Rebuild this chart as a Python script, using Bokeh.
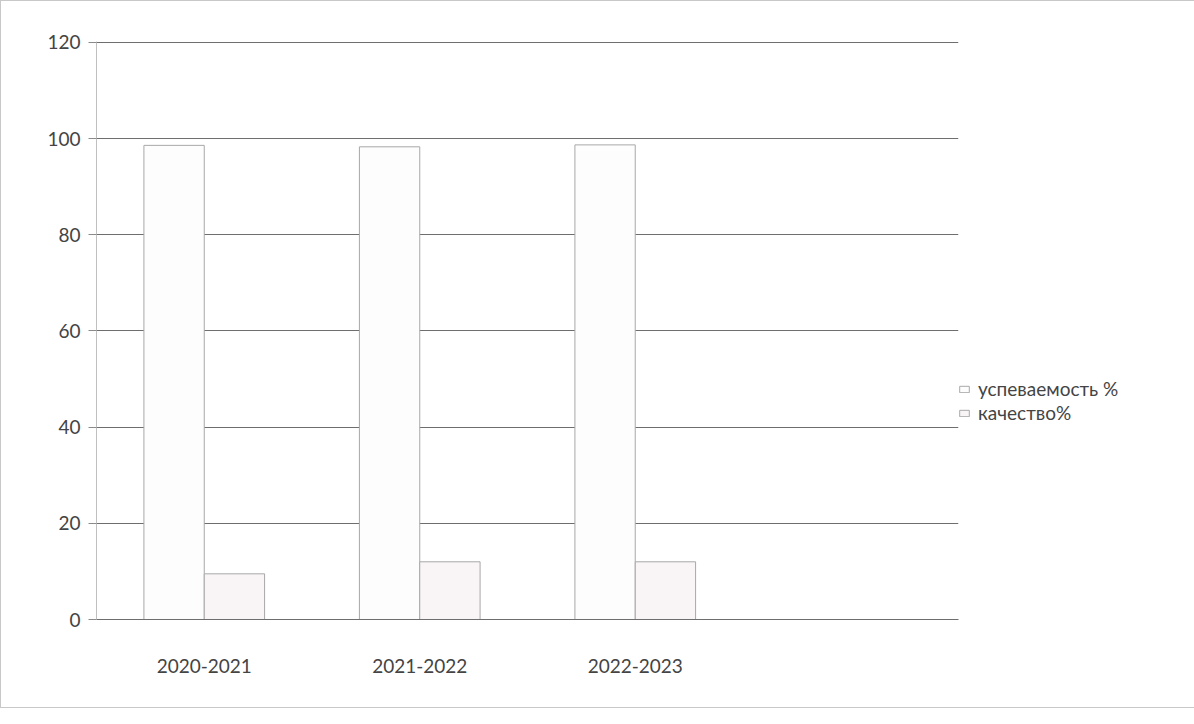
from bokeh.plotting import figure
from bokeh.models import FactorRange, Range1d, Legend, LegendItem, ColumnDataSource, FixedTicker
from bokeh.transform import dodge
from bokeh.embed import file_html
from bokeh.resources import INLINE

# data
categories = ["2020-2021", "2021-2022", "2022-2023"]
success = [98.6, 98.3, 98.7]       # успеваемость %
quality = [9.5, 12.0, 12.0]        # качество%
series_names = ["успеваемость %", "качество%"]
y_ticks = [0, 20, 40, 60, 80, 100, 120]

FONT = "Lato"

factors = categories + [" "]
src = ColumnDataSource(data=dict(cat=categories, success=success, quality=quality))

p = figure(x_range=FactorRange(factors=factors, range_padding=0), y_range=Range1d(0, 120.2),
           frame_width=862, frame_height=578, output_backend="svg", toolbar_location=None,
           min_border_left=95, min_border_top=40, min_border_bottom=88, min_border_right=221)
p.styles = {"border": "1px solid #c8c8c8"}

r1 = p.vbar(x=dodge("cat", -0.14, range=p.x_range), top="success", width=0.28, source=src,
            fill_color="#fdfdfd", line_color="#a8a8a8", line_width=1)
r2 = p.vbar(x=dodge("cat", 0.14, range=p.x_range), top="quality", width=0.28, source=src,
            fill_color="#f9f5f7", line_color="#a8a8a8", line_width=1)

p.outline_line_color = None
p.xgrid.grid_line_color = None
p.ygrid.grid_line_color = "#6e6e6e"
p.ygrid.grid_line_width = 1

p.yaxis.ticker = FixedTicker(ticks=y_ticks)
p.yaxis.axis_line_color = "#c0c0c0"
p.yaxis.major_tick_line_color = "#8a8a8a"
p.yaxis.major_tick_out = 8
p.yaxis.major_tick_in = 0
p.yaxis.minor_tick_line_color = None
p.yaxis.major_label_text_font = FONT
p.yaxis.major_label_text_font_size = "19px"
p.yaxis.major_label_text_color = "#444444"
p.yaxis.major_label_standoff = 8

p.xaxis.axis_line_color = "#6e6e6e"
p.xaxis.major_tick_line_color = None
p.xaxis.minor_tick_line_color = None
p.xaxis.major_label_text_font = FONT
p.xaxis.major_label_text_font_size = "19px"
p.xaxis.major_label_text_color = "#444444"
p.xaxis.major_label_standoff = 28

legend = Legend(items=[LegendItem(label=series_names[0], renderers=[r1]),
                       LegendItem(label=series_names[1], renderers=[r2])],
                location=(0, 195), orientation="vertical")
legend.border_line_color = None
legend.background_fill_alpha = 0
legend.label_text_font = FONT
legend.label_text_font_size = "19px"
legend.label_text_color = "#444444"
legend.glyph_width = 12
legend.glyph_height = 8
legend.label_standoff = 8
legend.spacing = 1
legend.padding = 0
legend.margin = 0
p.add_layout(legend, "right")

open("out.html", "w").write(file_html(p, INLINE))
